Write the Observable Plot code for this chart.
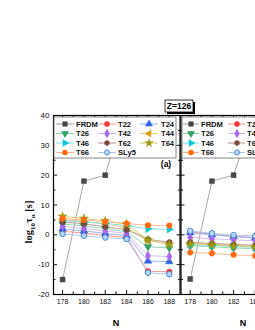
<!DOCTYPE html>
<html><head><meta charset="utf-8">
<script src="https://cdn.jsdelivr.net/npm/d3@7"></script>
<script src="https://cdn.jsdelivr.net/npm/@observablehq/plot@0.6"></script>
<style>
html,body{margin:0;padding:0;background:#fff;overflow:hidden;width:255px;height:330px}
#wrap{position:relative;width:255px;height:330px;overflow:hidden;background:#fff}
#wrap svg{position:absolute;left:0;top:0;overflow:visible}
</style></head><body><div id="wrap"></div>
<script>
// ---- data ----
const N = [178, 180, 182, 184, 186, 188];
const series = ["FRDM","T22","T24","T26","T42","T44","T46","T62","T64","T66","SLy5"];
// panel (a)
const a_FRDM = [-15, 18, 20, 45, null, null];
const a_T22  = [1.2, 0.6, -0.2, -0.9, -12.2, -12.4];
const a_T24  = [2.0, 1.3, 0.5, -0.3, -8.8, -9.0];
const a_T26  = [3.6, 3.0, 2.1, 1.0, -4.0, -4.4];
const a_T42  = [2.8, 2.1, 1.3, 0.4, -7.0, -7.3];
const a_T44  = [5.1, 4.5, 3.6, 2.5, -2.0, -3.0];
const a_T46  = [4.8, 4.3, 3.8, 3.1, 2.0, 1.9];
const a_T62  = [4.3, 3.7, 2.7, 1.7, -1.5, -2.5];
const a_T64  = [6.2, 5.5, 4.7, 3.6, -1.7, -3.2];
const a_T66  = [5.5, 5.0, 4.4, 3.8, 3.2, 3.1];
const a_SLy5 = [0.3, -0.3, -0.9, -1.4, -12.7, -13.2];
// panel (b) (only left part visible)
const b_FRDM = [-14.8, 18, 20, 42, null, null];
const b_T22  = [1.0, 0.2, -0.5, -0.9, null, null];
const b_T24  = [0.7, 0.0, -0.6, -1.0, null, null];
const b_T26  = [-3.7, -4.0, -4.4, -4.7, null, null];
const b_T42  = [-0.9, -1.3, -1.7, -2.0, null, null];
const b_T44  = [-2.8, -3.2, -3.5, -3.8, null, null];
const b_T46  = [-3.3, -3.6, -3.9, -4.2, null, null];
const b_T62  = [-2.5, -2.9, -3.2, -3.5, null, null];
const b_T64  = [-3.1, -3.4, -3.8, -4.1, null, null];
const b_T66  = [-5.9, -6.2, -6.7, -7.0, null, null];
const b_SLy5 = [1.3, 0.5, -0.1, -0.3, null, null];

const yTicks = [-20, -10, 0, 10, 20, 30, 40];
const yMinor = [-15, -5, 5, 15, 25, 35];
const xTicks = [178, 180, 182, 184, 186, 188];
const xMinor = [179, 181, 183, 185, 187];

const panelA = {FRDM:a_FRDM,T22:a_T22,T24:a_T24,T26:a_T26,T42:a_T42,T44:a_T44,T46:a_T46,T62:a_T62,T64:a_T64,T66:a_T66,SLy5:a_SLy5};
const panelB = {FRDM:b_FRDM,T22:b_T22,T24:b_T24,T26:b_T26,T42:b_T42,T44:b_T44,T46:b_T46,T62:b_T62,T64:b_T64,T66:b_T66,SLy5:b_SLy5};

// ---- symbols ----
const s3 = Math.sqrt(3);
function tri(dir){ return {draw(c, size){
  const y = -Math.sqrt(size/(s3*3));
  const pts = [[0, y*2],[-s3*y, -y],[s3*y, -y]];
  const rot = {up:0, down:Math.PI, left:-Math.PI/2, right:Math.PI/2}[dir];
  const R = pts.map(([x,yy]) => [x*Math.cos(rot)-yy*Math.sin(rot), x*Math.sin(rot)+yy*Math.cos(rot)]);
  c.moveTo(R[0][0],R[0][1]); c.lineTo(R[1][0],R[1][1]); c.lineTo(R[2][0],R[2][1]); c.closePath();
}};}
const hexagon = {draw(c, size){ const r = Math.sqrt(size/Math.PI)*1.05;
  for (let i=0;i<6;i++){const a=Math.PI/3*i+Math.PI/6; const x=r*Math.cos(a), y=r*Math.sin(a); i?c.lineTo(x,y):c.moveTo(x,y);} c.closePath(); }};

const sty = {
  FRDM: {sym:d3.symbolSquare, fill:"#464646", stroke:"#464646", line:"#9c9c9c"},
  T22:  {sym:d3.symbolCircle, fill:"#f23a3a", stroke:"#f23a3a", line:"#f59090"},
  T24:  {sym:tri("up"),       fill:"#2a62e0", stroke:"#2a62e0", line:"#8fb0f0"},
  T26:  {sym:tri("down"),     fill:"#2f9e62", stroke:"#2f9e62", line:"#8ad2a8"},
  T42:  {sym:d3.symbolDiamond,fill:"#a868ea", stroke:"#a868ea", line:"#cfb0f2"},
  T44:  {sym:tri("left"),     fill:"#d6a21c", stroke:"#d6a21c", line:"#e6c878"},
  T46:  {sym:tri("right"),    fill:"#16c6d6", stroke:"#16c6d6", line:"#7adfe8"},
  T62:  {sym:hexagon,         fill:"#7b4a3e", stroke:"#7b4a3e", line:"#b89288"},
  T64:  {sym:d3.symbolStar,   fill:"#9c9a12", stroke:"#9c9a12", line:"#cfcd70"},
  T66:  {sym:d3.symbolCircle, fill:"#ff6a12", stroke:"#ff6a12", line:"#ffb486"},
  SLy5: {sym:d3.symbolCircle, fill:"#b8d4f4", stroke:"#4a88d6", line:"#a6c4ec"}
};

const FONT = "'Liberation Sans', Arial, sans-serif";

function makePanel(vals, {width, marginLeft, marginRight, labels}) {
  const rows = [];
  series.forEach(s => vals[s].forEach((v, i) => { if (v != null) rows.push({N: N[i], v, s}); }));
  const marks = [];
  for (const s of series) {
    marks.push(Plot.line(rows.filter(r => r.s === s), {x:"N", y:"v", stroke: sty[s].line, strokeWidth: 0.9, clip: true}));
  }
  for (const s of series) {
    marks.push(Plot.dot(rows.filter(r => r.s === s), {x:"N", y:"v", symbol: sty[s].sym, r: 2.8, fill: sty[s].fill, stroke: sty[s].stroke, strokeWidth: s === "SLy5" ? 1 : 0.5, clip: true}));
  }
  const blank = () => "";
  marks.push(
    Plot.axisY({anchor:"left", ticks:yTicks, tickSize:4, dx:4, tickFormat:blank, label:null}),
    Plot.axisY({anchor:"left", ticks:yMinor, tickSize:2.5, dx:2.5, tickFormat:blank, label:null}),
    Plot.axisY({anchor:"right", ticks:yTicks, tickSize:4, dx:-4, tickFormat:blank, label:null}),
    Plot.axisY({anchor:"right", ticks:yMinor, tickSize:2.5, dx:-2.5, tickFormat:blank, label:null}),
    Plot.axisX({anchor:"bottom", ticks:xTicks, tickSize:4, dy:-4, tickFormat:blank, label:null}),
    Plot.axisX({anchor:"bottom", ticks:xMinor, tickSize:2.5, dy:-2.5, tickFormat:blank, label:null}),
    Plot.axisX({anchor:"top", ticks:xTicks, tickSize:4, dy:4, tickFormat:blank, label:null}),
    Plot.axisX({anchor:"top", ticks:xMinor, tickSize:2.5, dy:2.5, tickFormat:blank, label:null}),
    Plot.axisX({anchor:"bottom", ticks:xTicks, tickSize:0, tickPadding:5, fontSize:7, tickFormat:d => String(d), label:null})
  );
  if (labels) marks.push(Plot.axisY({anchor:"left", ticks:yTicks, tickSize:0, tickPadding:4, fontSize:8, tickFormat:d => String(d), label:null}));
  marks.push(Plot.frame({stroke:"#000", strokeWidth:1.2}));
  return Plot.plot({
    width, height:330, marginLeft, marginRight, marginTop:115, marginBottom:36,
    x:{domain:[177.15, 189]}, y:{domain:[-20, 40]},
    style:`background:none;max-width:none;font-family:${FONT};font-size:8px;color:#111;overflow:visible;`,
    marks
  });
}

const wrap = document.getElementById("wrap");
wrap.appendChild(makePanel(panelB, {width:310, marginLeft:180.5, marginRight:1, labels:false}));
wrap.appendChild(makePanel(panelA, {width:180, marginLeft:53, marginRight:0.5, labels:true}));

// ---- overlay: legends, labels ----
const ov = d3.select(wrap).append("svg").attr("width", 320).attr("height", 330)
  .style("font-family", FONT);

function legend(x, w, cols) {
  const g = ov.append("g");
  g.append("rect").attr("x", x).attr("y", 117).attr("width", w).attr("height", 41)
    .attr("fill", "#fff").attr("stroke", "#6a6a6a").attr("stroke-width", 0.8);
  const rowY = [124, 133.5, 143, 152.5];
  series.forEach((s, i) => {
    const c = cols[i % 3], y = rowY[Math.floor(i / 3)];
    g.append("line").attr("x1", c.l0).attr("x2", c.l1).attr("y1", y).attr("y2", y)
      .attr("stroke", sty[s].line).attr("stroke-width", 1);
    g.append("path").attr("d", d3.symbol(sty[s].sym, Math.PI * 2.6 * 2.6)())
      .attr("transform", `translate(${c.m},${y})`)
      .attr("fill", sty[s].fill).attr("stroke", sty[s].stroke).attr("stroke-width", s === "SLy5" ? 0.9 : 0.5);
    g.append("text").attr("x", c.t).attr("y", y).attr("dy", "0.35em")
      .attr("font-size", 7.6).attr("font-weight", "bold").attr("fill", "#111").text(s);
  });
}
legend(54, 122, [{l0:56,l1:74,m:65,t:76},{l0:98,l1:116,m:107,t:118},{l0:140,l1:158,m:149,t:161}]);
legend(182, 124, [{l0:183,l1:199,m:191,t:201},{l0:228,l1:245,m:237,t:247},{l0:271,l1:288,m:280,t:291}]);

// (a)
ov.append("text").attr("x", 166).attr("y", 164).attr("dy", "0.35em").attr("text-anchor", "middle")
  .attr("font-size", 8.5).attr("font-weight", "bold").text("(a)");
// Z=126 box
ov.append("rect").attr("x", 167).attr("y", 102).attr("width", 28).attr("height", 12).attr("fill", "#000");
ov.append("rect").attr("x", 165).attr("y", 100).attr("width", 28).attr("height", 12)
  .attr("fill", "#fff").attr("stroke", "#000").attr("stroke-width", 0.8);
ov.append("text").attr("x", 179).attr("y", 106).attr("dy", "0.35em").attr("text-anchor", "middle")
  .attr("font-size", 8.5).attr("font-weight", "bold").text("Z=126");
// x labels
ov.append("text").attr("x", 116).attr("y", 323).attr("dy", "0.35em").attr("text-anchor", "middle")
  .attr("font-size", 9).attr("font-weight", "bold").text("N");
ov.append("text").attr("x", 243).attr("y", 323).attr("dy", "0.35em").attr("text-anchor", "middle")
  .attr("font-size", 9).attr("font-weight", "bold").text("N");
// y label
const yl = ov.append("text").attr("transform", "translate(32,222) rotate(-90)")
  .attr("text-anchor", "middle").attr("font-family", "'Liberation Serif', 'Times New Roman', serif")
  .attr("font-weight", "bold").attr("font-size", 10.5).attr("fill", "#111");
yl.append("tspan").text("log");
yl.append("tspan").attr("font-size", 7).attr("dy", 2.5).text("10");
yl.append("tspan").attr("dy", -2.5).text("τ");
yl.append("tspan").attr("font-size", 7).attr("dy", 2.5).text("α");
yl.append("tspan").attr("dy", -2.5).text(" [s]");
</script></body></html>
